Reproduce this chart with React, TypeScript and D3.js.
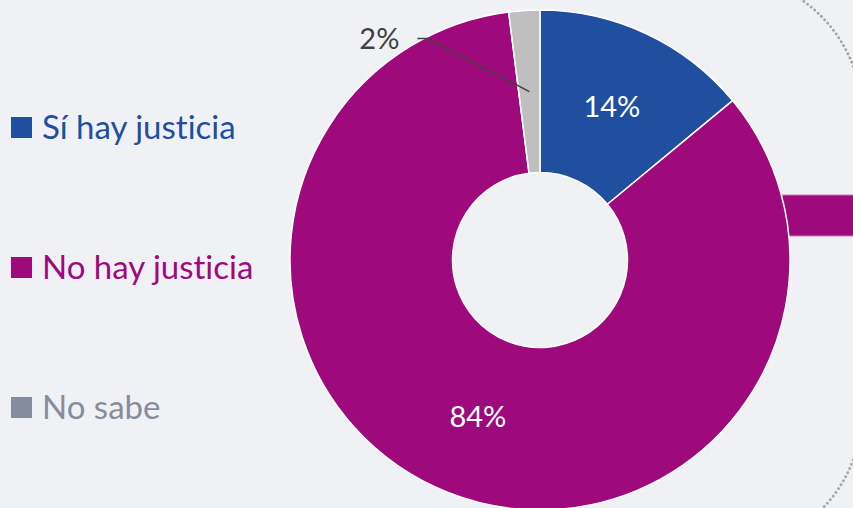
import React from "react";
import * as d3 from "d3";

const categories = ["Sí hay justicia", "No hay justicia", "No sabe"];
const values = [14, 84, 2];
const sliceColors = ["#1f4f9e", "#9e0a7c", "#bfbfbf"];
const legendColors = ["#1f4f9e", "#9e0a7c", "#858d9c"];
const labelText = ["14%", "84%", "2%"];

const W = 853;
const H = 508;

export default function App() {
  const cx = 540;
  const cy = 260;
  const outer = 250;
  const inner = 87.5;

  const pie = d3
    .pie<number>()
    .sort(null)
    .value((d) => d);
  const arcs = pie(values);
  const arc = d3.arc<d3.PieArcDatum<number>>().innerRadius(inner).outerRadius(outer);

  const legendY = d3.scalePoint<string>().domain(categories).range([127, 407]);

  const font = { fontFamily: "Lato, sans-serif", fontVariantLigatures: "none" as const };

  return (
    <svg
      width={W}
      height={H}
      style={{ position: "fixed", left: 0, top: 0, display: "block", background: "#f0f1f5" }}
    >
      <rect
        x={-200}
        y={-25}
        width={1062}
        height={576}
        rx={140}
        fill="none"
        stroke="#a6a6a6"
        strokeWidth={2.8}
        strokeDasharray="0.1 4.5"
        strokeLinecap="round"
      />
      {/* piece of the neighbouring bar, cut off by the frame */}
      <rect x={782} y={195} width={80} height={41} fill="#9e0a7c" stroke="#c97bb6" strokeWidth={1} />
      <g transform={`translate(${cx},${cy})`}>
        {arcs.map((a, i) => (
          <path key={i} d={arc(a) ?? ""} fill={sliceColors[i]} stroke="#ffffff" strokeWidth={1.5} />
        ))}
        {arcs.map((a, i) => {
          const [x, y] = arc.centroid(a);
          if (values[i] < 5) {
            const lx = x - 102;
            const ly = y - 53;
            return (
              <g key={i}>
                <polyline
                  points={`${x},${y} ${lx},${ly} ${lx - 10},${ly}`}
                  fill="none"
                  stroke="#404040"
                  strokeWidth={1.5}
                />
                <text
                  x={lx - 28}
                  y={ly}
                  dy="0.35em"
                  textAnchor="end"
                  fill="#404040"
                  fontSize={29}
                  style={font}
                >
                  {labelText[i]}
                </text>
              </g>
            );
          }
          return (
            <text
              key={i}
              x={x}
              y={y}
              dy="0.35em"
              textAnchor="middle"
              fill="#ffffff"
              fontSize={29}
              style={font}
            >
              {labelText[i]}
            </text>
          );
        })}
      </g>
      {categories.map((c, i) => {
        const y = legendY(c) ?? 0;
        return (
          <g key={c}>
            <rect x={11} y={y - 10} width={21} height={21} fill={legendColors[i]} />
            <text x={42} y={y} dy="0.36em" fill={legendColors[i]} fontSize={33} style={font}>
              {c}
            </text>
          </g>
        );
      })}
    </svg>
  );
}
